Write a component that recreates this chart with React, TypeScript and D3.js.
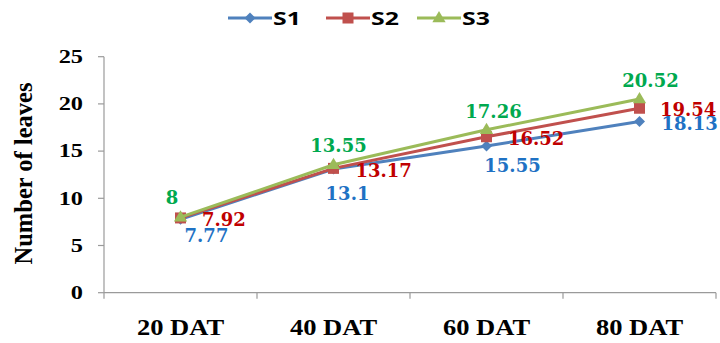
import React from "react";
import * as d3 from "d3";

// Sampling stages and leaf counts per treatment
const categories = ["20 DAT", "40 DAT", "60 DAT", "80 DAT"];
const seriesNames = ["S1", "S2", "S3"];
const s1Values = [7.77, 13.1, 15.55, 18.13];
const s2Values = [7.92, 13.17, 16.52, 19.54];
const s3Values = [8, 13.55, 17.26, 20.52];
const yTicks = [0, 5, 10, 15, 20, 25];

const lineColors = ["#4F81BD", "#C0504D", "#9BBB59"];
const labelColors = ["#1F72C4", "#C00000", "#00A94F"];
const markers = ["diamond", "square", "triangle"];

// Data label placement per series: [dx, dy, anchor] for each point
const labelOffsets: [number, number, string][][] = [
  [[26, 23, "middle"], [14, 31, "middle"], [26, 26, "middle"], [22, 8.5, "start"]],
  [[21.5, 8, "start"], [22, 8.5, "start"], [21.5, 8, "start"], [20.5, 7.7, "start"]],
  [[-8.5, -13, "middle"], [5, -12.8, "middle"], [7, -11.8, "middle"], [11, -12, "middle"]],
];

const W = 720;
const H = 343;
const left = 104;
const right = 716;
const top = 56.7;
const bottom = 292.7;

function Marker({ kind, x, y, color }: { kind: string; x: number; y: number; color: string }) {
  if (kind === "diamond") {
    const r = 5.5;
    return <path d={`M${x},${y - r}L${x + r},${y}L${x},${y + r}L${x - r},${y}Z`} fill={color} />;
  }
  if (kind === "square") {
    const r = 5.5;
    return <rect x={x - r} y={y - r} width={2 * r} height={2 * r} fill={color} />;
  }
  const r = 7;
  return (
    <path
      d={`M${x},${y - r}L${x + r * 0.95},${y + r * 0.6}L${x - r * 0.95},${y + r * 0.6}Z`}
      fill={color}
    />
  );
}

// Text widened horizontally around its anchor point
function WideText({
  x,
  y,
  sx,
  children,
  ...rest
}: {
  x: number;
  y: number;
  sx: number;
  children: React.ReactNode;
  [k: string]: any;
}) {
  return (
    <text transform={`translate(${x},${y}) scale(${sx},1)`} {...rest}>
      {children}
    </text>
  );
}

export default function App() {
  const allSeries = [s1Values, s2Values, s3Values];
  const x = d3.scaleBand<string>().domain(categories).range([left, right]);
  const y = d3.scaleLinear().domain([0, 25]).range([bottom, top]);
  const cx = (c: string) => (x(c) as number) + x.bandwidth() / 2;
  const line = d3
    .line<number>()
    .x((_, i) => cx(categories[i]))
    .y((v) => y(v));

  const boundaries = categories.map((c) => x(c) as number).concat([right]);
  const axisColor = "#9a9a9a";
  const serif = "'Liberation Serif', 'Times New Roman', serif";

  const legendX = [228, 326, 417];
  const legendLen = 44;

  return (
    <svg
      width={W}
      height={H}
      style={{ position: "absolute", left: 0, top: 0, background: "#fff" }}
    >
      {/* Legend */}
      {seriesNames.map((name, i) => (
        <g key={name}>
          <line
            x1={legendX[i]}
            x2={legendX[i] + legendLen}
            y1={18}
            y2={18}
            stroke={lineColors[i]}
            strokeWidth={3}
          />
          <Marker kind={markers[i]} x={legendX[i] + legendLen / 2} y={18} color={lineColors[i]} />
          <WideText
            x={legendX[i] + legendLen + 1}
            y={24.5}
            sx={1.42}
            fontFamily="'Open Sans', Lato, sans-serif"
            fontWeight={700}
            fontSize={17.5}
            fill="#000"
          >
            {name}
          </WideText>
        </g>
      ))}

      {/* Axes */}
      <line x1={left} x2={left} y1={top} y2={bottom} stroke={axisColor} strokeWidth={1.2} />
      <line x1={left} x2={right} y1={bottom} y2={bottom} stroke={axisColor} strokeWidth={1.2} />
      {yTicks.map((t) => (
        <g key={t}>
          <line x1={left - 6} x2={left} y1={y(t)} y2={y(t)} stroke={axisColor} strokeWidth={1.2} />
          <WideText
            x={83}
            y={y(t) + 6.3}
            sx={1.25}
            textAnchor="end"
            fontFamily={serif}
            fontWeight={700}
            fontSize={19.5}
            fill="#000"
          >
            {t}
          </WideText>
        </g>
      ))}
      {boundaries.map((b, i) => (
        <line key={i} x1={b} x2={b} y1={bottom} y2={bottom + 6} stroke={axisColor} strokeWidth={1.2} />
      ))}
      {categories.map((c) => (
        <WideText
          key={c}
          x={cx(c)}
          y={335}
          sx={1.18}
          textAnchor="middle"
          fontFamily={serif}
          fontWeight={700}
          fontSize={22.5}
          fill="#000"
        >
          {c}
        </WideText>
      ))}
      <text
        transform={`translate(32,173.5) rotate(-90)`}
        textAnchor="middle"
        fontFamily={serif}
        fontWeight={700}
        fontSize={24.5}
        fill="#000"
      >
        Number of leaves
      </text>

      {/* Series lines and markers */}
      {allSeries.map((vals, si) => (
        <g key={si}>
          <path d={line(vals) as string} fill="none" stroke={lineColors[si]} strokeWidth={3} />
          {vals.map((v, i) => (
            <Marker key={i} kind={markers[si]} x={cx(categories[i])} y={y(v)} color={lineColors[si]} />
          ))}
        </g>
      ))}

      {/* Data labels */}
      {allSeries.map((vals, si) =>
        vals.map((v, i) => {
          const [dx, dy, anchor] = labelOffsets[si][i];
          return (
            <text
              key={`${si}-${i}`}
              x={cx(categories[i]) + dx}
              y={y(v) + dy}
              textAnchor={anchor as any}
              fontFamily="'DejaVu Serif', Cambria, serif"
              fontWeight={700}
              fontSize={18}
              fill={labelColors[si]}
            >
              {v}
            </text>
          );
        })
      )}
    </svg>
  );
}
